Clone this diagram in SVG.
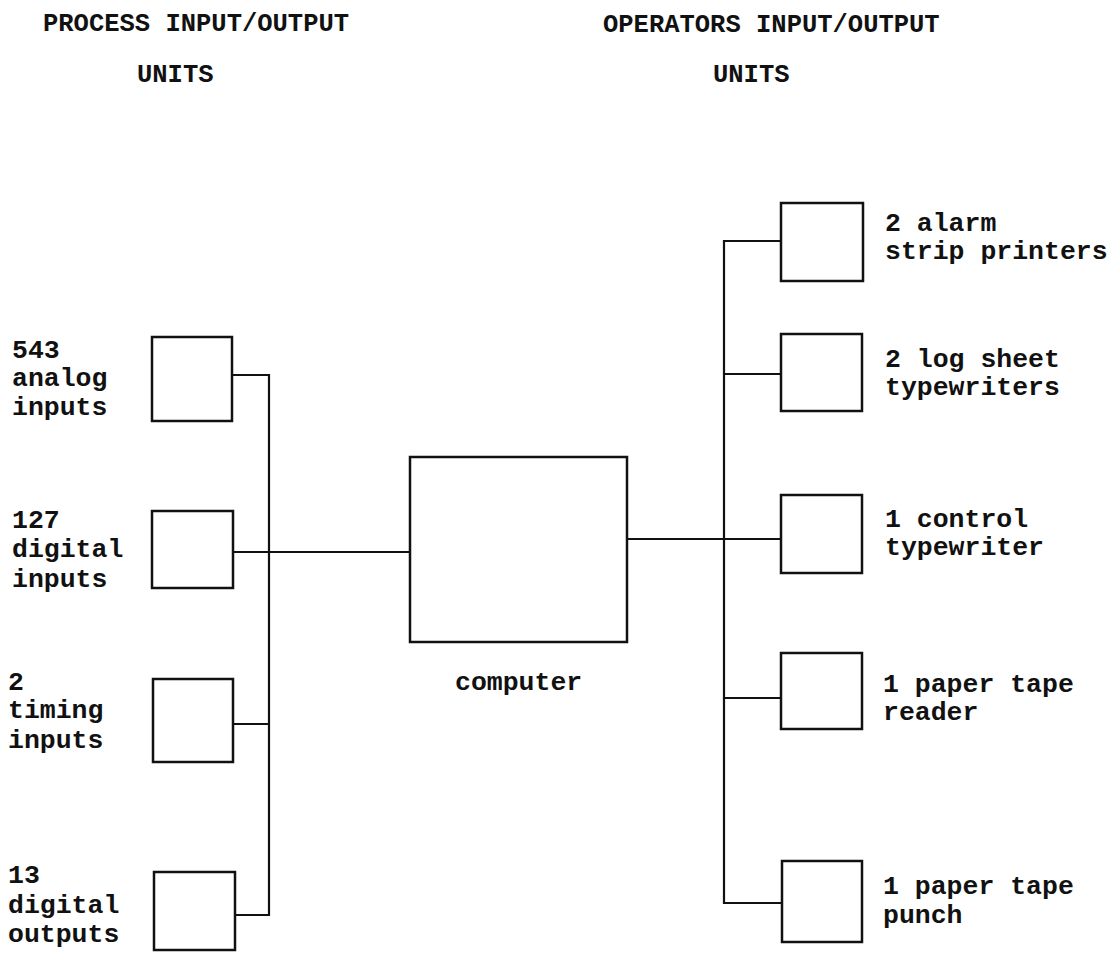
<svg xmlns="http://www.w3.org/2000/svg" width="1116" height="954" viewBox="0 0 1116 954">
<style>
.box{fill:none;stroke:#111;stroke-width:2.5}
.ln{fill:none;stroke:#111;stroke-width:2.2}
.t{font-family:"Liberation Mono","Courier New",monospace;font-size:26.5px;fill:#111;font-weight:bold}
.h{font-family:"Liberation Mono","Courier New",monospace;font-size:25.5px;fill:#111;font-weight:bold}
</style>
<rect width="1116" height="954" fill="#fff"/>
<g id="titles">
<text class="h" x="43" y="31">PROCESS INPUT/OUTPUT</text>
<text class="h" x="137" y="82">UNITS</text>
<text class="h" x="603" y="32">OPERATORS INPUT/OUTPUT</text>
<text class="h" x="713" y="82">UNITS</text>
</g>
<g id="connectors">
<path class="ln" d="M232,375 H269 V915 H236"/>
<path class="ln" d="M233,552 H410"/>
<path class="ln" d="M233,724 H269"/>
<path class="ln" d="M627,539 H781"/>
<path class="ln" d="M781,241 H724 V903 H782"/>
<path class="ln" d="M724,374 H781"/>
<path class="ln" d="M724,698 H781"/>
</g>
<g id="analog-inputs">
<rect class="box" x="152" y="337" width="80" height="84"/>
<text class="t" x="12" y="358">543</text>
<text class="t" x="12" y="386">analog</text>
<text class="t" x="12" y="415">inputs</text>
</g>
<g id="digital-inputs">
<rect class="box" x="152" y="511" width="81" height="77"/>
<text class="t" x="12" y="528">127</text>
<text class="t" x="12" y="557">digital</text>
<text class="t" x="12" y="587">inputs</text>
</g>
<g id="timing-inputs">
<rect class="box" x="153" y="679" width="80" height="83"/>
<text class="t" x="8" y="690">2</text>
<text class="t" x="8" y="718">timing</text>
<text class="t" x="8" y="748">inputs</text>
</g>
<g id="digital-outputs">
<rect class="box" x="154" y="872" width="81" height="78"/>
<text class="t" x="8" y="883">13</text>
<text class="t" x="8" y="913">digital</text>
<text class="t" x="8" y="942">outputs</text>
</g>
<g id="computer">
<rect class="box" x="410" y="457" width="217" height="185"/>
<text class="t" x="455" y="690">computer</text>
</g>
<g id="alarm-printers">
<rect class="box" x="781" y="203" width="82" height="78"/>
<text class="t" x="885" y="231">2 alarm</text>
<text class="t" x="885" y="259">strip printers</text>
</g>
<g id="log-typewriters">
<rect class="box" x="781" y="334" width="81" height="77"/>
<text class="t" x="885" y="367">2 log sheet</text>
<text class="t" x="885" y="395">typewriters</text>
</g>
<g id="control-typewriter">
<rect class="box" x="781" y="495" width="81" height="78"/>
<text class="t" x="885" y="527">1 control</text>
<text class="t" x="885" y="555">typewriter</text>
</g>
<g id="tape-reader">
<rect class="box" x="781" y="653" width="81" height="76"/>
<text class="t" x="883" y="692">1 paper tape</text>
<text class="t" x="883" y="720">reader</text>
</g>
<g id="tape-punch">
<rect class="box" x="782" y="861" width="80" height="81"/>
<text class="t" x="883" y="894">1 paper tape</text>
<text class="t" x="883" y="923">punch</text>
</g>
</svg>
